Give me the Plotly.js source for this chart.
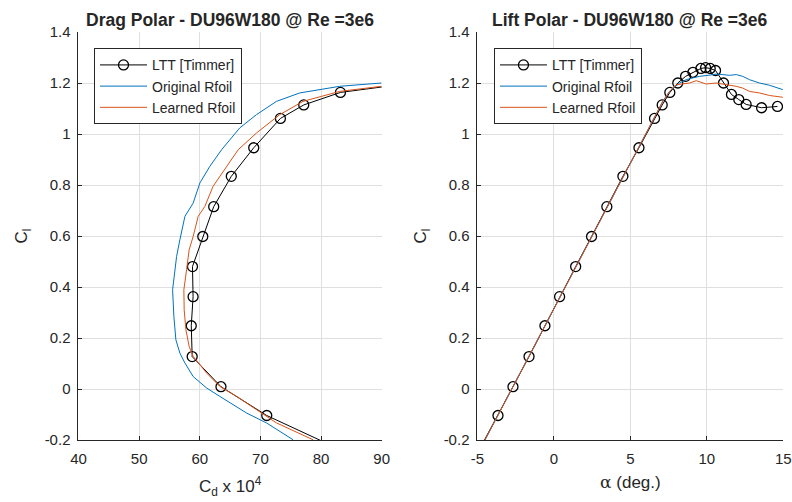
<!DOCTYPE html>
<html>
<head>
<meta charset="utf-8">
<script src="https://cdn.plot.ly/plotly-3.0.1.min.js"></script>
<style>html,body{margin:0;padding:0;background:#fff;}#chart{width:792px;height:502px;}</style>
</head>
<body>
<div id="chart"></div>
<script>
// LTT [Timmer] measurements
const lttAlpha = [-4.99, -3.66, -2.68, -1.63, -0.59, 0.37, 1.42, 2.46, 3.46, 4.51, 5.56, 6.58, 7.08, 7.58, 8.10, 8.61, 9.09, 9.61, 9.92, 10.22, 10.57, 11.09, 11.61, 12.09, 12.57, 13.58, 14.62];
const lttCl = [-0.25, -0.104, 0.009, 0.127, 0.248, 0.362, 0.480, 0.598, 0.715, 0.834, 0.946, 1.061, 1.114, 1.163, 1.200, 1.226, 1.242, 1.257, 1.260, 1.257, 1.249, 1.200, 1.155, 1.135, 1.116, 1.103, 1.108];
const lttCd = [84.3, 71.05, 63.5, 58.75, 58.6, 58.9, 58.8, 60.5, 62.3, 65.2, 68.9, 73.3, 77.15, 83.2, 95.0];

// Original Rfoil drag polar
const origDragCd = [75.39, 71.0, 67.71, 64.96, 63.31, 61.12, 58.91, 57.55, 56.72, 56.06, 55.73, 55.52, 55.9, 56.18, 56.72, 57.55, 58.91, 60.02, 61.66, 63.59, 66.6, 69.36, 72.65, 76.49, 83.08, 89.95];
const origDragCl = [-0.199, -0.133, -0.094, -0.055, -0.029, 0.004, 0.049, 0.102, 0.141, 0.193, 0.285, 0.389, 0.455, 0.520, 0.585, 0.677, 0.729, 0.808, 0.873, 0.938, 1.024, 1.076, 1.128, 1.161, 1.187, 1.200];

// Learned Rfoil drag polar
const learnDragCd = [78.68, 72.65, 69.36, 66.06, 63.31, 61.12, 58.91, 58.25, 57.71, 57.43, 57.38, 57.55, 57.83, 58.25, 58.91, 59.74, 60.84, 62.2, 64.41, 66.33, 69.36, 73.2, 77.04, 83.08, 89.95];
const learnDragCl = [-0.199, -0.133, -0.081, -0.029, 0.010, 0.063, 0.128, 0.167, 0.233, 0.311, 0.389, 0.416, 0.468, 0.546, 0.598, 0.677, 0.716, 0.795, 0.873, 0.938, 1.004, 1.076, 1.128, 1.167, 1.187];

// Original Rfoil lift polar
const origLiftAlpha = [-4.6, -3, -1, 1, 3, 5, 6, 6.58, 7.12, 7.56, 8.22, 8.65, 9.09, 9.52, 10.07, 10.61, 11.05, 11.48, 11.92, 12.35, 12.79, 13.44, 14.10, 14.97];
const origLiftCl = [-0.21, -0.028, 0.2, 0.425, 0.655, 0.88, 0.995, 1.066, 1.128, 1.167, 1.200, 1.213, 1.220, 1.226, 1.230, 1.235, 1.233, 1.230, 1.233, 1.226, 1.213, 1.200, 1.191, 1.174];

// Learned Rfoil lift polar
const learnLiftAlpha = [-4.6, -3, -1, 1, 3, 5, 6, 6.58, 7.12, 7.56, 8.0, 8.43, 8.87, 9.31, 9.63, 9.96, 10.61, 11.05, 11.48, 11.92, 12.35, 12.79, 13.44, 14.10, 14.97];
const learnLiftCl = [-0.21, -0.028, 0.2, 0.425, 0.655, 0.88, 0.995, 1.066, 1.128, 1.167, 1.193, 1.196, 1.200, 1.209, 1.204, 1.196, 1.200, 1.196, 1.193, 1.187, 1.180, 1.167, 1.161, 1.151, 1.144];

const clTicks = [-0.2, 0, 0.2, 0.4, 0.6, 0.8, 1, 1.2, 1.4];
const clTickText = ['-0.2', '0', '0.2', '0.4', '0.6', '0.8', '1', '1.2', '1.4'];
const cdTicks = [40, 50, 60, 70, 80, 90];
const cdTickText = ['40', '50', '60', '70', '80', '90'];
const alphaTicks = [-5, 0, 5, 10, 15];
const alphaTickText = ['-5', '0', '5', '10', '15'];

const names = ['LTT [Timmer]', 'Original Rfoil', 'Learned Rfoil'];
const titles = ['Drag Polar - DU96W180 @ Re =3e6', 'Lift Polar - DU96W180 @ Re =3e6'];

const BLACK = '#000000', BLUE = '#0072BD', RED = '#D95319', AX = '#262626';
const FONT = 'Liberation Sans, Arial, Helvetica, sans-serif';

const data = [
  {x: lttCd, y: lttCl.slice(0, lttCd.length), name: names[0], mode: 'lines+markers', xaxis: 'x', yaxis: 'y', legend: 'legend',
   line: {color: BLACK, width: 1}, marker: {symbol: 'circle-open', size: 10, color: BLACK, line: {width: 1.3, color: BLACK}}},
  {x: origDragCd, y: origDragCl, name: names[1], mode: 'lines', xaxis: 'x', yaxis: 'y', legend: 'legend', line: {color: BLUE, width: 1}},
  {x: learnDragCd, y: learnDragCl, name: names[2], mode: 'lines', xaxis: 'x', yaxis: 'y', legend: 'legend', line: {color: RED, width: 1}},
  {x: lttAlpha, y: lttCl, name: names[0], mode: 'lines+markers', xaxis: 'x2', yaxis: 'y2', legend: 'legend2',
   line: {color: BLACK, width: 1}, marker: {symbol: 'circle-open', size: 10, color: BLACK, line: {width: 1.3, color: BLACK}}},
  {x: origLiftAlpha, y: origLiftCl, name: names[1], mode: 'lines', xaxis: 'x2', yaxis: 'y2', legend: 'legend2', line: {color: BLUE, width: 1}},
  {x: learnLiftAlpha, y: learnLiftCl, name: names[2], mode: 'lines', xaxis: 'x2', yaxis: 'y2', legend: 'legend2', line: {color: RED, width: 1}}
];

function xax(domain, range, tv, tt, title, standoff) {
  return {domain: domain, range: range, tickvals: tv, ticktext: tt, showgrid: true, gridcolor: '#dfdfdf', gridwidth: 1,
    showline: true, linecolor: AX, linewidth: 1, ticks: 'inside', ticklen: 4, tickcolor: AX, zeroline: false,
    tickfont: {family: FONT, size: 15, color: AX}, ticklabelstandoff: 5,
    title: {text: title, font: {family: FONT, size: 17, color: AX}, standoff: standoff}};
}
function yax(anchor) {
  return {domain: [0, 1], range: [-0.2, 1.4], tickvals: clTicks, ticktext: clTickText, anchor: anchor,
    showgrid: true, gridcolor: '#dfdfdf', gridwidth: 1, showline: true, linecolor: AX, linewidth: 1,
    ticks: 'inside', ticklen: 4, tickcolor: AX, zeroline: false, tickfont: {family: FONT, size: 15, color: AX},
    ticklabelstandoff: 4,
    title: {text: 'C<sub>l</sub>', font: {family: FONT, size: 17, color: AX}, standoff: 12}};
}

const legendStyle = (x) => ({x: x, y: 0.96, xanchor: 'left', yanchor: 'top', bgcolor: '#ffffff', bordercolor: AX, borderwidth: 1,
  font: {family: FONT, size: 14, color: AX}, tracegroupgap: 0, itemwidth: 47});

const layout = {
  width: 792, height: 502,
  margin: {l: 0, r: 0, t: 32, b: 62},
  paper_bgcolor: '#ffffff', plot_bgcolor: '#ffffff',
  showlegend: true,
  font: {family: FONT, color: AX},
  xaxis: xax([0.0991, 0.4819], [40, 90], cdTicks, cdTickText, 'C<sub>d</sub> x 10<sup>4</sup>', 14),
  yaxis: yax('x'),
  xaxis2: Object.assign(xax([0.6029, 0.989], [-5, 15], alphaTicks, alphaTickText,
    '<span style="font-family:\'DejaVu Serif\'">α</span> (deg.)', 10), {anchor: 'y2'}),
  yaxis2: yax('x2'),
  legend: legendStyle(0.1187),
  legend2: legendStyle(0.6237),
  annotations: [
    {text: '<b>' + titles[0] + '</b>', xref: 'paper', yref: 'paper', x: 0.2905, y: 1.029, xanchor: 'center', yanchor: 'middle',
     showarrow: false, font: {family: FONT, size: 17.5, color: AX}},
    {text: '<b>' + titles[1] + '</b>', xref: 'paper', yref: 'paper', x: 0.796, y: 1.029, xanchor: 'center', yanchor: 'middle',
     showarrow: false, font: {family: FONT, size: 17.5, color: AX}}
  ]
};

Plotly.newPlot('chart', data, layout, {displayModeBar: false, staticPlot: true});
</script>
</body>
</html>
